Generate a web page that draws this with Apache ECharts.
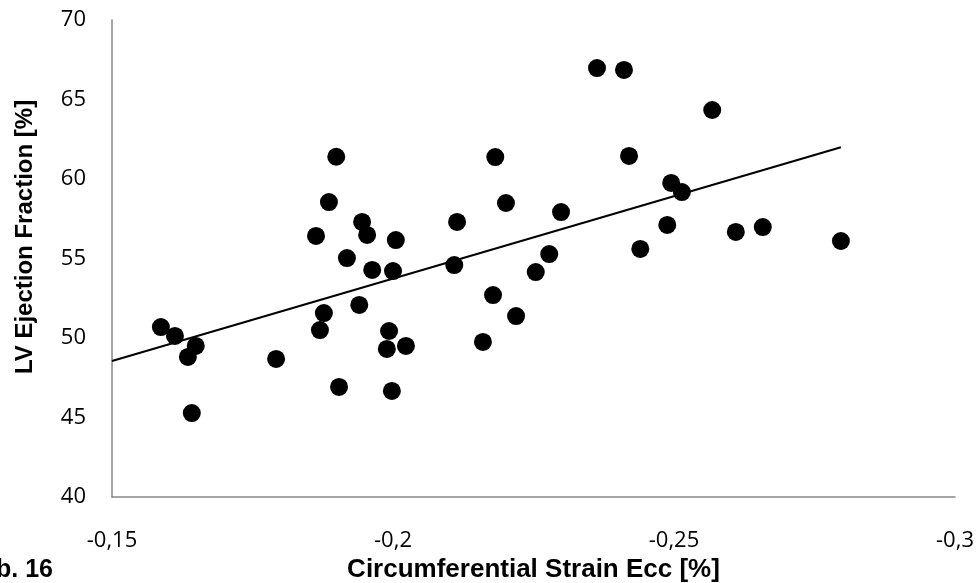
<!DOCTYPE html>
<html>
<head>
<meta charset="utf-8">
<script src="https://cdn.jsdelivr.net/npm/echarts@6/dist/echarts.min.js"></script>
<style>html,body{margin:0;padding:0;background:#fff;}#c{width:976px;height:583px;}</style>
</head>
<body>
<div id="c"></div>
<script>
const strainX = [-0.1587,-0.1612,-0.1635,-0.1649,-0.1642,-0.1792,-0.1863,-0.1870,-0.1877,-0.1886,-0.1899,-0.1904,-0.1940,-0.1945,-0.1954,-0.1918,-0.1963,-0.2000,-0.2005,-0.1993,-0.1989,-0.1998,-0.2023,-0.2109,-0.2114,-0.2160,-0.2178,-0.2182,-0.2201,-0.2219,-0.2254,-0.2278,-0.2299,-0.2363,-0.2411,-0.2420,-0.2440,-0.2488,-0.2495,-0.2514,-0.2568,-0.2610,-0.2658,-0.2797];
const efY = [50.69,50.13,48.81,49.50,45.28,48.68,56.42,50.50,51.57,58.55,61.40,46.92,52.08,57.30,56.48,55.03,54.28,54.21,56.16,50.44,49.31,46.67,49.50,54.59,57.30,49.75,52.70,61.38,58.49,51.38,54.15,55.28,57.92,66.98,66.86,61.45,55.60,57.11,59.75,59.18,64.34,56.67,56.98,56.10];
const trendX = [-0.15, -0.2797];
const trendY = [48.55, 62.0];
const xTitle = 'Circumferential Strain Ecc [%]';
const yTitle = 'LV Ejection Fraction [%]';
const figLabel = 'Abb. 16';

const chart = echarts.init(document.getElementById('c'), null, {renderer: 'canvas'});
const fmtX = v => (Math.round(v * 100) / 100).toString().replace('.', ',');
chart.setOption({
  animation: false,
  backgroundColor: '#fff',
  grid: {left: 112, right: 21, top: 20, bottom: 86, containLabel: false, outerBoundsMode: 'none'},
  xAxis: {
    type: 'value', min: -0.3, max: -0.15, interval: 0.05, inverse: true,
    axisLine: {show: true, onZero: false, lineStyle: {color: '#868686', width: 1.5}},
    axisTick: {show: false}, splitLine: {show: false},
    axisLabel: {formatter: fmtX, color: '#000', fontFamily: 'Open Sans', fontSize: 22, margin: 33},
    name: xTitle, nameLocation: 'middle', nameGap: 41,
    nameTextStyle: {color: '#000', fontFamily: 'Liberation Sans', fontWeight: 'bold', fontSize: 26}
  },
  yAxis: {
    type: 'value', min: 40, max: 70, interval: 5,
    axisLine: {show: true, onZero: false, lineStyle: {color: '#868686', width: 1.5}},
    axisTick: {show: false}, splitLine: {show: false},
    axisLabel: {color: '#000', fontFamily: 'Open Sans', fontSize: 22, margin: 26}
  },
  graphic: [
    {type: 'text', x: 25, y: 237, rotation: Math.PI / 2,
     style: {text: yTitle, fill: '#000', font: 'bold 24px "Liberation Sans"', align: 'center', verticalAlign: 'middle'}},
    {type: 'text', x: 53, y: 570,
     style: {text: figLabel, fill: '#000', font: 'bold 25px "Liberation Sans"', align: 'right', verticalAlign: 'middle'}}
  ],
  series: [
    {type: 'scatter', data: strainX.map((x, i) => [x, efY[i]]), symbolSize: 18,
     itemStyle: {color: '#000', opacity: 1}, z: 3},
    {type: 'line', data: trendX.map((x, i) => [x, trendY[i]]), showSymbol: false, symbol: 'none',
     lineStyle: {color: '#000', width: 2}, z: 2}
  ]
});
</script>
</body>
</html>
